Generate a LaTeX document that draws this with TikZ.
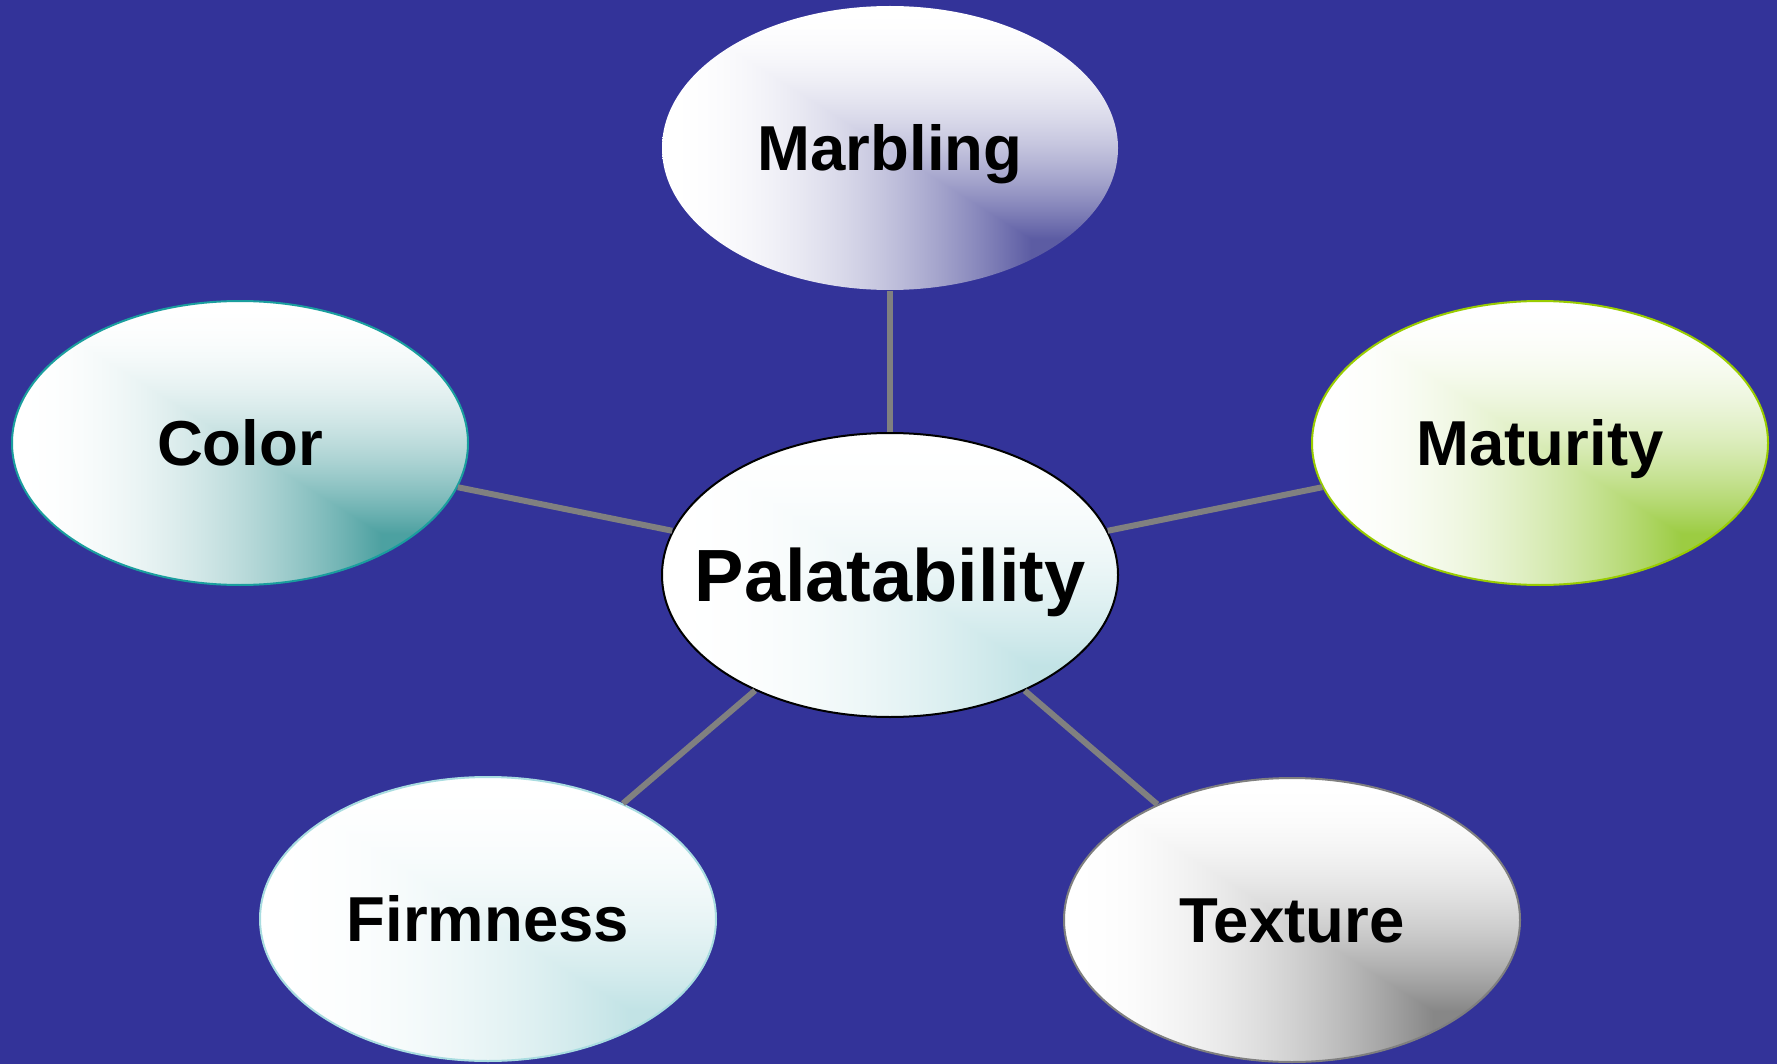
\documentclass[tikz,border=0pt]{standalone}
\usepackage{fontspec}
\setmainfont{Liberation Sans}
\usetikzlibrary{shapes.geometric}

\definecolor{slide}{HTML}{333399}
\definecolor{connector}{HTML}{808080}
\definecolor{tealedge}{HTML}{1A9E9E}
\definecolor{greenedge}{HTML}{99CC00}
\definecolor{paleedge}{HTML}{A8DCE0}
\definecolor{greyedge}{HTML}{7F7F7F}

% Rectangular "from corner" gradient: full colour at and beyond a focus
% near the lower right of the bounding box, fading to white towards the
% upper and left edges.
% Arguments: shading name, r, g, b of the deepest colour.
\newcommand\ovalshade[4]{%
  \pgfdeclarefunctionalshading{#1}{\pgfpoint{0bp}{0bp}}{\pgfpoint{100bp}{100bp}}{}{
    25 sub 50 div 0.18 sub dup 0 lt {pop 0} {0.82 div} ifelse
    exch 25 sub 50 div 0.81 sub dup 0 lt {neg 0.81 div} {pop 0} ifelse
    2 copy lt {exch} if pop
    dup 1 gt {pop 1} if
    1 exch sub dup mul 1 exch sub
    dup dup
    1 #4 sub mul #4 add
    exch 1 #3 sub mul #3 add exch
    3 -1 roll 1 #2 sub mul #2 add 3 1 roll
  }}
\ovalshade{violetfade}{0.36}{0.36}{0.64}
\ovalshade{tealfade}{0.30}{0.63}{0.63}
\ovalshade{greenfade}{0.61}{0.80}{0.26}
\ovalshade{icefade}{0.76}{0.89}{0.90}
\ovalshade{greyfade}{0.53}{0.53}{0.53}

\tikzset{
  oval/.style={ellipse, inner sep=0pt, minimum width=456pt, minimum height=284pt,
    line width=2pt, shade, shading=#1, text=black,
    font=\fontsize{63.5}{70}\selectfont\bfseries, text height=45.5pt, text depth=0pt},
  hub/.style={font=\fontsize{74}{80}\selectfont\bfseries, text height=53pt},
  conn/.style={draw=connector, line width=6pt}
}

\begin{document}
\begin{tikzpicture}[x=1pt, y=-1pt]
  \fill[slide] (0,0) rectangle (1777,1064);
  \useasboundingbox (0,0) rectangle (1777,1064);

  \node[oval=icefade, hub, draw=black]   (pal)  at (890,575)  {\makebox[0pt]{Palatability}};
  \node[oval=violetfade, draw=none]      (marb) at (890,148)  {\makebox[0pt]{Marbling}};
  \node[oval=tealfade, draw=tealedge]    (col)  at (240,443)  {\makebox[0pt]{Color}};
  \node[oval=greenfade, draw=greenedge]  (mat)  at (1540,443) {\makebox[0pt]{Maturity}};
  \node[oval=icefade, draw=paleedge]     (firm) at (488,919)  {\makebox[0pt]{Firmness}};
  \node[oval=greyfade, draw=greyedge]    (tex)  at (1292,920) {\makebox[0pt]{Texture}};

  \draw[conn] (pal) -- (marb);
  \draw[conn] (pal) -- (col);
  \draw[conn] (pal) -- (mat);
  \draw[conn] (pal) -- (firm);
  \draw[conn] (pal) -- (tex);
\end{tikzpicture}
\end{document}
